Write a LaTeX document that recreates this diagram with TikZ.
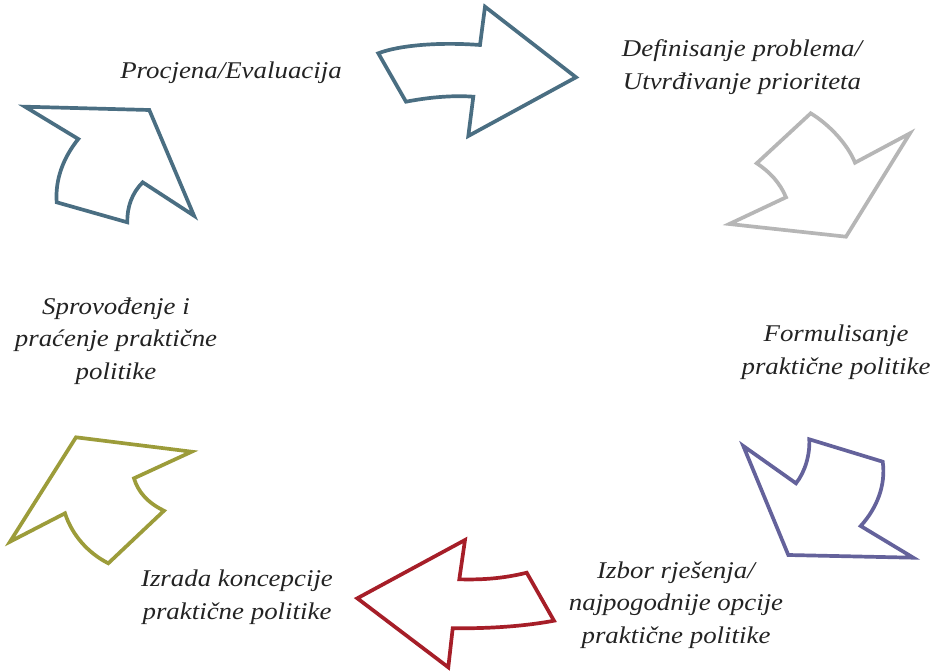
\documentclass[tikz,border=0pt]{standalone}
\usepackage{fontspec}
\setmainfont{Liberation Serif}
\newfontfamily\lblfont[FakeStretch=1.12]{Liberation Serif}
\definecolor{cblue}{RGB}{74,110,130}
\definecolor{cgray}{RGB}{182,182,182}
\definecolor{cpurple}{RGB}{100,98,155}
\definecolor{cred}{RGB}{166,30,40}
\definecolor{colive}{RGB}{156,156,58}
\definecolor{ctext}{RGB}{35,35,35}
\tikzset{
  arrowshape/.style={line width=3.7pt, line join=miter, miter limit=10, fill=white},
  lbl/.style={align=center, text=ctext, inner sep=0pt, font=\lblfont\fontsize{24}{32.5}\selectfont\itshape}
}
\begin{document}
\begin{tikzpicture}[x=1pt,y=-1pt]
\useasboundingbox (0,0) rectangle (942,671);
% arrow 1 (top, pointing right)
\draw[arrowshape, draw=cblue] (378.3,53.3) .. controls (400,45) and (440,42) .. (480,45)
  -- (485,6.7) -- (576,77.3) -- (468.3,136) -- (473.3,96.7)
  .. controls (450,95) and (425,98) .. (406,101.7) -- cycle;
% arrow 2 (gray)
\draw[arrowshape, draw=cgray] (810.7,113.3) .. controls (830,125) and (848,145) .. (855,162.7)
  -- (910,133.3) -- (846,236.7) -- (729.3,224) -- (786,197.3)
  .. controls (780,183) and (770,172) .. (756.7,163.3) -- cycle;
% arrow 3 (purple)
\draw[arrowshape, draw=cpurple] (743.3,446) -- (796,483.3)
  .. controls (805,472) and (810,455) .. (809.3,439.3)
  -- (882.7,461.7) .. controls (886,485) and (877,508) .. (860.7,526)
  -- (913.3,557.7) -- (788.3,555) -- cycle;
% arrow 4 (red)
\draw[arrowshape, draw=cred] (357.3,598.3) -- (465,540) -- (459.3,579.3)
  .. controls (485,580) and (505,578) .. (526.7,572.7)
  -- (554,620.7) .. controls (520,627) and (485,628.5) .. (452.7,628.3)
  -- (448.3,667.3) -- cycle;
% arrow 5 (olive)
\draw[arrowshape, draw=colive] (76,437.3) -- (191.7,451.7) -- (134,478.3)
  .. controls (138,492) and (148,503) .. (164,510.7)
  -- (108.3,563.3) .. controls (88,553) and (72,535) .. (65,513.3)
  -- (10,541.7) -- cycle;
% arrow 6 (blue, left)
\draw[arrowshape, draw=cblue] (25,106.7) -- (149.3,110) -- (194,215.7) -- (142.7,182.3)
  .. controls (132,193) and (127,207) .. (127.3,222.3)
  -- (56.7,202.3) .. controls (55,180) and (63,158) .. (78.3,139) -- cycle;
% labels
\node[lbl] (t1) at (231,73) {Procjena/Evaluacija};
\node[lbl] (t2) at (742,67) {Definisanje problema/\\Utvrđivanje prioriteta};
\node[lbl] (t3) at (836,352) {Formulisanje\\praktične politike};
\node[lbl] (t4) at (676,605) {Izbor rješenja/\\najpogodnije opcije\\praktične politike};
\node[lbl] (t5) at (237,597) {Izrada koncepcije\\praktične politike};
\node[lbl] (t6) at (116,341) {Sprovođenje i\\praćenje praktične\\politike};
\end{tikzpicture}
\end{document}
